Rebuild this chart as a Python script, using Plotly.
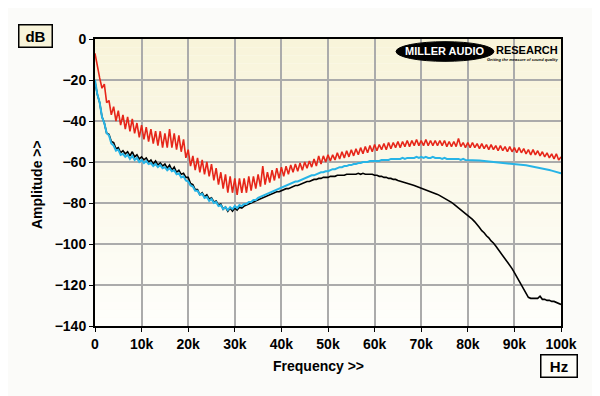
import plotly.graph_objects as go

# ---------------- data ----------------
FREQ_KHZ = [i / 2 for i in range(201)]  # 0 .. 100 kHz, 0.5 kHz grid

RED_DB = [
    -7, -14, -19, -24, -22, -31, -30, -37, -33, -40,
    -35, -42, -37, -44, -38, -45, -39, -46, -41, -48,
    -42, -49, -43, -50, -44, -51, -45, -52, -45, -53,
    -46, -53, -44, -53, -46, -54, -47, -55, -49, -58,
    -54, -62, -57, -64, -58, -65, -59, -66, -60, -67,
    -61, -69, -63, -71, -65, -73, -66, -75, -67, -75,
    -68, -76, -68, -75, -68, -75, -67, -74, -67, -73,
    -66, -72, -62, -71, -65, -70, -64, -69, -63, -68,
    -62.5, -67, -62, -66, -61.5, -65, -61, -64.5, -60.5, -64,
    -60, -63, -59.5, -62.5, -58.5, -62, -57, -61, -57, -60,
    -56.5, -59.5, -56.5, -59, -55.5, -58.5, -55, -58, -54.5, -57.5,
    -54, -57, -53.5, -56.5, -53, -56, -52.5, -55.5, -52, -55,
    -51.5, -54.5, -51.5, -54, -51, -54, -50.5, -53.5, -50.5, -53,
    -50, -53, -50, -52.5, -49.5, -52.5, -49.5, -52, -49, -52,
    -49.5, -52, -49, -52, -49.5, -52, -49.5, -52, -49.5, -52,
    -49.5, -52.5, -50, -52.5, -50, -52.5, -48.5, -52.5, -50.5, -53,
    -50.5, -53, -50.5, -53, -51, -53.5, -51, -53.5, -51.5, -54,
    -51.5, -54, -52, -54.5, -52, -54.5, -52.5, -55, -52.5, -55,
    -53, -55.5, -53, -55.5, -53.5, -56, -54, -56.5, -54, -56.5,
    -54.5, -57, -55, -57.5, -55.5, -58, -56, -58.5, -56, -59,
    -57.5,
]

BLACK_DB = [
    -21, -27, -31, -38, -41, -46, -46.5, -50, -50.5, -53.5,
    -53, -55.5, -54.5, -56, -55, -57, -55, -57.5, -56.5, -58.5,
    -57.5, -59, -58, -60, -59, -61, -59.5, -61.5, -60.5, -62,
    -61, -63, -61.5, -64, -62.5, -65, -64, -66, -65.5, -67.5,
    -67.5, -70.5, -71, -73.5, -73.5, -76, -75, -77, -76, -78,
    -77.5, -79.5, -79, -81, -80.5, -83, -82, -84, -82.5, -84,
    -82.5, -83.5, -82, -82.5, -81.5, -81, -80.5, -80, -79.5, -79,
    -78.5, -78, -77.5, -77, -76.5, -76, -75.5, -75, -74.5, -74.5,
    -74, -73.5, -73, -73, -72.5, -72, -71.5, -71.5, -71, -70.5,
    -70, -69.5, -69.5, -69, -68.5, -68.5, -68, -68, -67.5, -67.5,
    -67.5, -67, -67, -67, -66.5, -66.5, -66.5, -66.5, -66, -66,
    -66, -66, -66, -65.5, -66, -65.5, -66, -66, -66, -66,
    -66.5, -66.5, -67, -67, -67.5, -67.5, -68, -68, -68.5, -68.5,
    -69, -69.3, -69.6, -70, -70.3, -70.7, -71.1, -71.5, -71.9, -72.3,
    -72.7, -73.1, -73.5, -73.9, -74.3, -74.8, -75.3, -75.8, -76.4, -77,
    -77.7, -78.3, -79, -79.7, -80.5, -81.4, -82.3, -83.1, -84, -85,
    -86, -87, -88, -89.2, -90.4, -92, -93.5, -94.5, -96, -97,
    -98.5, -99.5, -101, -102.5, -104, -105.5, -107, -108.5, -110, -112,
    -114, -116, -118, -120, -122, -124, -126, -126.5, -126.5, -126.5,
    -126.5, -125.5, -127, -127, -127.5, -127.5, -128, -128, -128.5, -129,
    -129.5,
]

CYAN_DB = [
    -20, -27, -31, -38, -41, -46, -47, -51, -52, -54.5,
    -54, -56.5, -56, -57.5, -56.5, -58.5, -57, -59, -58, -60,
    -59, -60.5, -59.5, -61, -60.5, -62, -61, -62.5, -61.5, -63,
    -62.5, -64, -63, -64.5, -64, -66, -65.5, -67.5, -67, -69,
    -69.5, -71.5, -72, -74, -74, -76, -75.5, -77.5, -77, -79,
    -78, -80, -79.5, -81.5, -81, -83, -82, -83.5, -82, -83,
    -81.5, -82.5, -81, -81.5, -80.5, -80.5, -79.5, -79.5, -78.5, -78.5,
    -77.5, -77, -76.5, -76, -75.5, -75, -74.5, -74, -73.5, -73,
    -72.5, -72, -71.5, -71, -70.5, -70, -69.5, -69.5, -69, -68.5,
    -68, -67.5, -67, -66.5, -66.5, -66, -65.5, -65, -65, -64.5,
    -64.5, -64, -63.5, -63.5, -63, -62.5, -62.5, -62, -62, -61.5,
    -61.5, -61, -61, -60.5, -60.5, -60, -60, -60, -59.5, -59.5,
    -59.5, -59.5, -59.5, -59, -59, -59, -59, -58.5, -58.5, -58.5,
    -58.5, -58.5, -58, -58.5, -58, -58, -58, -58, -57.5, -58,
    -57.5, -58, -57.5, -58, -58, -57.5, -58, -58, -58, -58.5,
    -58, -58.5, -58.5, -58.5, -58.5, -58.5, -58.5, -59, -58.5, -59,
    -59, -59, -59.1, -59.2, -59.3, -59.3, -59.4, -59.5, -59.6, -59.7,
    -59.8, -59.9, -60, -60.1, -60.2, -60.3, -60.4, -60.5, -60.6, -60.7,
    -60.8, -60.9, -61.1, -61.2, -61.4, -61.6, -61.8, -62, -62.2, -62.4,
    -62.6, -62.8, -63.1, -63.3, -63.6, -63.9, -64.2, -64.5, -64.8, -65.1,
    -65.5,
]

X_TICKS = [0, 10, 20, 30, 40, 50, 60, 70, 80, 90, 100]
X_TICK_TEXT = ["0", "10k", "20k", "30k", "40k", "50k", "60k", "70k", "80k", "90k", "100k"]
Y_TICKS = [0, -20, -40, -60, -80, -100, -120, -140]

# ---------------- figure ----------------
FONT = "Liberation Sans, Arial, sans-serif"
OFF = 8                      # default page margin of the html body
W, H = 600 - OFF, 396 - OFF
L, R, T, B = 95 - OFF, 39, 39 - OFF, 70
pw, ph = W - L - R, H - T - B


def px_to_paper(px, py):
    """window pixel -> paper coordinates"""
    return (px - OFF - L) / pw, 1 - (py - OFF - T) / ph


fig = go.Figure()
fig.add_trace(go.Scatter(x=FREQ_KHZ, y=BLACK_DB, mode="lines",
                         line=dict(color="#000000", width=1.6), showlegend=False))
fig.add_trace(go.Scatter(x=FREQ_KHZ, y=CYAN_DB, mode="lines",
                         line=dict(color="#27b4e6", width=2), showlegend=False))
fig.add_trace(go.Scatter(x=FREQ_KHZ, y=RED_DB, mode="lines",
                         line=dict(color="#e62619", width=1.6), showlegend=False))

# gradient plot background (cream at top -> near white at bottom)
shapes = []
n_bands = 35
top = (248, 244, 218)
bot = (254, 254, 251)
for i in range(n_bands):
    t = i / (n_bands - 1)
    c = tuple(int(round(top[k] + (bot[k] - top[k]) * t)) for k in range(3))
    shapes.append(dict(type="rect", xref="paper", yref="paper",
                       x0=0, x1=1, y0=1 - (i + 1) / n_bands, y1=1 - i / n_bands,
                       fillcolor="rgb(%d,%d,%d)" % c, line=dict(width=0), layer="below"))

# logo ellipse
shapes.append(dict(type="circle", xref="x", yref="y", x0=64.6, x1=85.6, y0=-10.9, y1=-1.3,
                   fillcolor="#000000", line=dict(color="#000000", width=1), layer="above"))

ax_, ay_ = px_to_paper(37, 185)
fx_, fy_ = px_to_paper(318, 366)
dx_, dy_ = px_to_paper(35, 36)
hx_, hy_ = px_to_paper(559, 366)

C = dict(xanchor="center", yanchor="middle")
annotations = [
    dict(text="<b>MILLER AUDIO</b>", x=75.1, y=-6.0, xref="x", yref="y", showarrow=False,
         font=dict(family=FONT, size=11, color="#ffffff"), **C),
    dict(text="<b>RESEARCH</b>", x=85.7, y=-5.4, xref="x", yref="y", showarrow=False,
         xanchor="left", yanchor="middle", font=dict(family=FONT, size=11, color="#000000")),
    dict(text="<b><i>Getting the measure of sound quality</i></b>", x=99.7, y=-10.0, xref="x", yref="y",
         showarrow=False, xanchor="right", yanchor="middle",
         font=dict(family=FONT, size=4, color="#000000")),
    dict(text="<b>Amplitude >></b>", x=ax_, y=ay_, xref="paper", yref="paper", showarrow=False,
         textangle=-90, font=dict(family=FONT, size=14, color="#000000"), **C),
    dict(text="<b>Frequency >></b>", x=fx_, y=fy_, xref="paper", yref="paper", showarrow=False,
         font=dict(family=FONT, size=14, color="#000000"), **C),
    dict(text="<b>dB</b>", x=dx_, y=dy_, xref="paper", yref="paper", showarrow=False,
         font=dict(family=FONT, size=15, color="#000000"), width=30, height=19,
         bgcolor="#f8f4da", bordercolor="#000000", borderwidth=1.5, borderpad=1, **C),
    dict(text="<b>Hz</b>", x=hx_, y=hy_, xref="paper", yref="paper", showarrow=False,
         font=dict(family=FONT, size=15, color="#000000"), width=33, height=19,
         bgcolor="#fdfdf8", bordercolor="#000000", borderwidth=1.5, borderpad=1, **C),
]

fig.update_layout(
    shapes=shapes,
    annotations=annotations,
    width=W, height=H, autosize=False,
    margin=dict(l=L, r=R, t=T, b=B, pad=0),
    paper_bgcolor="#fbfbf9",
    plot_bgcolor="#fdfcf4",
    xaxis=dict(range=[0, 100], tickvals=X_TICKS, ticktext=X_TICK_TEXT,
               showgrid=True, gridcolor="#ababab", gridwidth=1.5, zeroline=False,
               showline=True, linecolor="#000000", linewidth=2, mirror=True,
               ticks="outside", ticklen=4, tickcolor="#000000", tickwidth=1,
               tickfont=dict(family=FONT, size=14, color="#000000", weight="bold")),
    yaxis=dict(range=[-140, 0], tickvals=Y_TICKS,
               showgrid=True, gridcolor="#ababab", gridwidth=1.5, zeroline=False,
               showline=True, linecolor="#000000", linewidth=2, mirror=True,
               ticks="outside", ticklen=4, tickcolor="#000000", tickwidth=1,
               tickfont=dict(family=FONT, size=14, color="#000000", weight="bold")),
)

fig.write_html("out.html")
